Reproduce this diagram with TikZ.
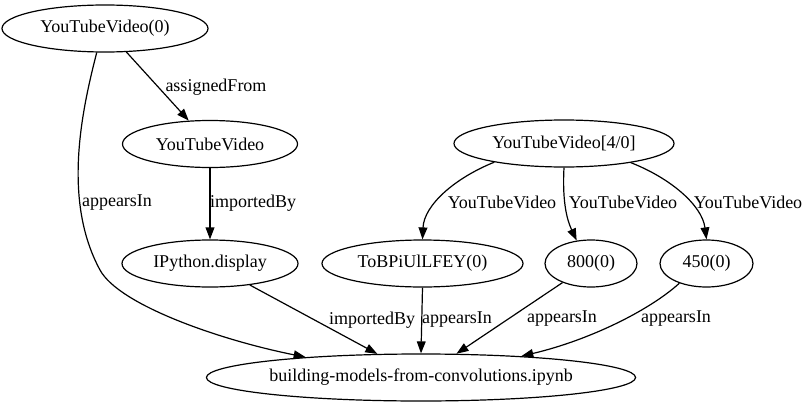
\documentclass[tikz,border=0pt]{standalone}
\usepackage{fontspec}
\setmainfont{Liberation Serif}
\usetikzlibrary{arrows.meta,shapes.geometric}
\begin{document}
\begin{tikzpicture}[x=0.75pt,y=-0.75pt,
  gnode/.style={draw,ellipse,line width=0.9pt,inner sep=0pt,minimum height=35.25pt,font=\fontsize{13.5pt}{16pt}\selectfont},
  elabel/.style={inner sep=0pt,font=\fontsize{13.5pt}{16pt}\selectfont},
  edge/.style={draw,line width=0.9pt,-{Triangle[length=9pt,width=6.6pt]}}]
\useasboundingbox (0,0) rectangle (810,407);
% nodes
\node[gnode,minimum width=154.5pt] (A) at (105,28.5) {YouTubeVideo(0)};
\node[gnode,minimum width=131.25pt] (B) at (210,144) {YouTubeVideo};
\node[gnode,minimum width=132pt] (C) at (210,263.5) {IPython.display};
\node[gnode,minimum width=165pt] (D) at (564,143.5) {YouTubeVideo[4/0]};
\node[gnode,minimum width=150.75pt] (E) at (422.5,263.5) {ToBPiUlLFEY(0)};
\node[gnode,minimum width=69pt] (F) at (591,263.5) {800(0)};
\node[gnode,minimum width=69.75pt] (G) at (706.5,263.5) {450(0)};
\node[gnode,minimum width=321pt] (H) at (421,377.5) {building-models-from-convolutions.ipynb};
% edges
\draw[edge] (A) -- (B);
\draw[edge] (A.251) .. controls (82,110) and (62,200) .. (100,270)
  .. controls (119,305) and (220,340) .. (H.170);
\draw[edge] (B) -- (C);
\draw[edge] (C) -- (H);
\draw[edge] (E.south) -- (H.north);
\draw[edge] (F) -- (H);
\draw[edge] (G.216) .. controls (650,310) and (590,340) .. (H.12);
\draw[edge] (D.195) .. controls (455,178) and (424,205) .. (E.north);
\draw[edge] (D.south) .. controls (562,205) and (568,222) .. (F.122);
\draw[edge] (D.344) .. controls (670,178) and (702,205) .. (G.north);
% labels
\node[elabel] (lAB) at (216,87) {assignedFrom};
\node[elabel] (lAH) at (117,203) {appearsIn};
\node[elabel] (lBC) at (253,203) {importedBy};
\node[elabel] (lCH) at (372,320) {importedBy};
\node[elabel] (lEH) at (457,320) {appearsIn};
\node[elabel] (lFH) at (562,319) {appearsIn};
\node[elabel] (lGH) at (676,319) {appearsIn};
\node[elabel] (lDE) at (502,202) {YouTubeVideo};
\node[elabel] (lDF) at (623,202) {YouTubeVideo};
\node[elabel] (lDG) at (748,202) {YouTubeVideo};
\end{tikzpicture}
\end{document}
